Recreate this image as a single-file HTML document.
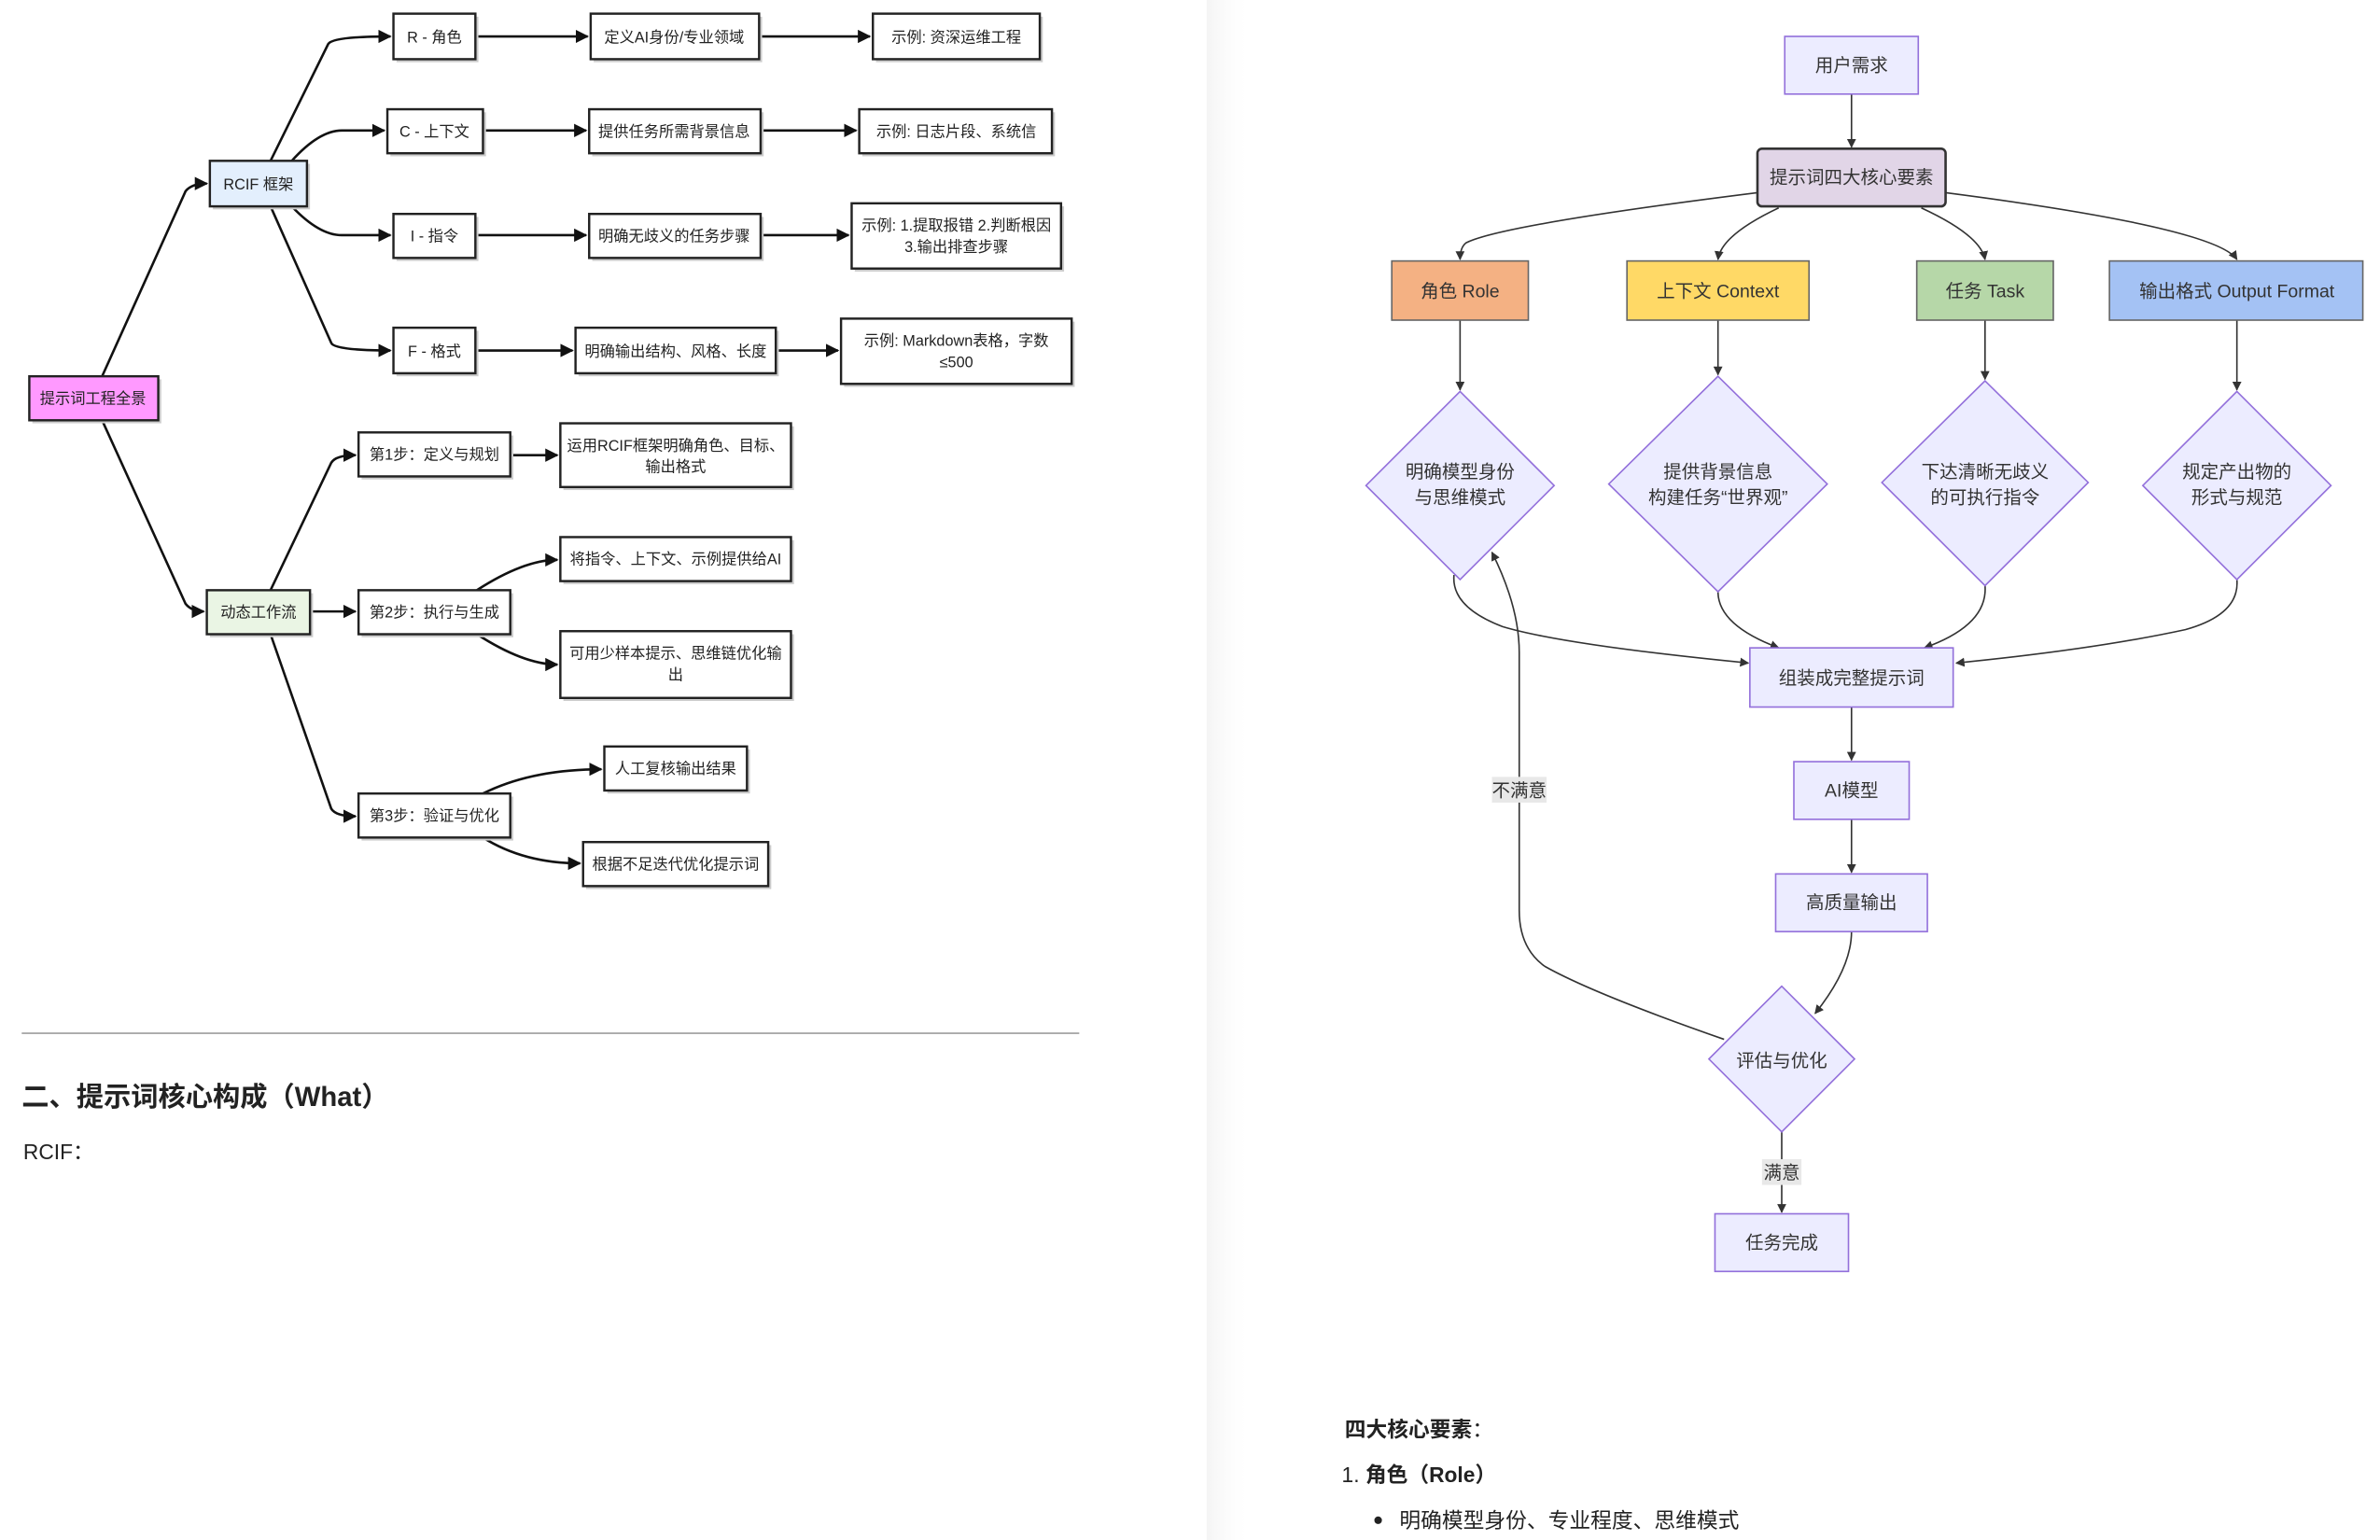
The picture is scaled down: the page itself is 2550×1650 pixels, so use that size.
<!DOCTYPE html>
<html><head><meta charset="utf-8"><style>
html,body{margin:0;padding:0;background:#fff;width:2550px;height:1650px;overflow:hidden}
svg{display:block}
text{font-family:"Liberation Sans","Noto Sans CJK SC",sans-serif}
</style></head><body>
<svg width="2550" height="1650" viewBox="0 0 1568 1015" xmlns="http://www.w3.org/2000/svg">
<defs>
<linearGradient id="sh" x1="0" x2="1" y1="0" y2="0">
<stop offset="0" stop-color="#f4f4f4"/><stop offset="1" stop-color="#ffffff" stop-opacity="0"/>
</linearGradient>
<marker id="ab" viewBox="0 0 10 10" refX="9" refY="5" markerWidth="5.5" markerHeight="5.5" orient="auto"><path d="M0,0L10,5L0,10z" fill="#111"/></marker>
<marker id="ag" viewBox="0 0 10 10" refX="9" refY="5" markerWidth="6" markerHeight="6" orient="auto"><path d="M0,0L10,5L0,10z" fill="#333"/></marker>
</defs>
<rect x="0" y="0" width="1568" height="1015" fill="#fff"/>
<rect x="795" y="0" width="30" height="1015" fill="url(#sh)"/>

<g fill="none" stroke="#111" stroke-width="1.6" marker-end="url(#ab)">
<path d="M67,248 L122,126 Q126,121 136,121"/>
<path d="M67,277 L122,398 Q126,403 134,403"/>
<path d="M178,106 L216,29 Q219,24 257,24"/>
<path d="M192,106 Q210,86 225,86 L253,86"/>
<path d="M192,136 Q210,155 225,155 L257,155"/>
<path d="M178,136 L218,226 Q220,231 257,231"/>
<path d="M313,24 L387,24"/><path d="M500,24 L573,24"/>
<path d="M318,86 L386,86"/><path d="M501,86 L564,86"/>
<path d="M313,155 L386,155"/><path d="M501,155 L559,155"/>
<path d="M313,231 L377,231"/><path d="M511,231 L552,231"/>
<path d="M178,389 L218,305 Q221,300 234,300"/>
<path d="M204,403 L234,403"/>
<path d="M178,418 L218,533 Q221,538 234,538"/>
<path d="M336,300 L367,300"/>
<path d="M314,389 Q345,369 367,369"/>
<path d="M314,418 Q345,438 367,438"/>
<path d="M318,523 Q350,507 396,507"/>
<path d="M318,552 Q345,569 382,569"/>
</g>
<g stroke="#222" stroke-width="1.5" font-size="10" text-anchor="middle">
<g fill="#ccc" stroke="none">
<rect x="21" y="250" width="85" height="29"/><rect x="140" y="108" width="64" height="30"/><rect x="138" y="391" width="68" height="29"/>
<rect x="261" y="11" width="54" height="30"/><rect x="391" y="11" width="111" height="30"/><rect x="577" y="11" width="110" height="30"/>
<rect x="257" y="74" width="63" height="29"/><rect x="390" y="74" width="113" height="29"/><rect x="568" y="74" width="127" height="29"/>
<rect x="261" y="143" width="54" height="29"/><rect x="390" y="143" width="113" height="29"/><rect x="563" y="136" width="138" height="43"/>
<rect x="261" y="218" width="54" height="30"/><rect x="381" y="218" width="132" height="30"/><rect x="556" y="212" width="152" height="43"/>
<rect x="238" y="287" width="100" height="29"/><rect x="371" y="281" width="152" height="42"/>
<rect x="238" y="391" width="100" height="29"/><rect x="371" y="356" width="152" height="29"/><rect x="371" y="418" width="152" height="44"/>
<rect x="238" y="525" width="100" height="29"/><rect x="400" y="494" width="94" height="29"/><rect x="386" y="557" width="122" height="29"/>
</g>
<rect x="19" y="248" width="85" height="29" fill="#ff99ff"/>
<rect x="138" y="106" width="64" height="30" fill="#e3effd"/>
<rect x="136" y="389" width="68" height="29" fill="#eaf5e4"/>
<g fill="#fff">
<rect x="259" y="9" width="54" height="30"/><rect x="389" y="9" width="111" height="30"/><rect x="575" y="9" width="110" height="30"/>
<rect x="255" y="72" width="63" height="29"/><rect x="388" y="72" width="113" height="29"/><rect x="566" y="72" width="127" height="29"/>
<rect x="259" y="141" width="54" height="29"/><rect x="388" y="141" width="113" height="29"/><rect x="561" y="134" width="138" height="43"/>
<rect x="259" y="216" width="54" height="30"/><rect x="379" y="216" width="132" height="30"/><rect x="554" y="210" width="152" height="43"/>
<rect x="236" y="285" width="100" height="29"/><rect x="369" y="279" width="152" height="42"/>
<rect x="236" y="389" width="100" height="29"/><rect x="369" y="354" width="152" height="29"/><rect x="369" y="416" width="152" height="44"/>
<rect x="236" y="523" width="100" height="29"/><rect x="398" y="492" width="94" height="29"/><rect x="384" y="555" width="122" height="29"/>
</g>
<g stroke="none" fill="#222">
<text x="61" y="266">提示词工程全景</text>
<text x="170" y="125">RCIF 框架</text>
<text x="170" y="407">动态工作流</text>
<text x="286" y="28">R - 角色</text><text x="444" y="28">定义AI身份/专业领域</text><text x="630" y="28">示例: 资深运维工程</text>
<text x="286" y="90">C - 上下文</text><text x="444" y="90">提供任务所需背景信息</text><text x="630" y="90">示例: 日志片段、系统信</text>
<text x="286" y="159">I - 指令</text><text x="444" y="159">明确无歧义的任务步骤</text><text x="630" y="152">示例: 1.提取报错 2.判断根因</text><text x="630" y="166">3.输出排查步骤</text>
<text x="286" y="235">F - 格式</text><text x="445" y="235">明确输出结构、风格、长度</text><text x="630" y="228">示例: Markdown表格，字数</text><text x="630" y="242">≤500</text>
<text x="286" y="303">第1步：定义与规划</text><text x="445" y="297">运用RCIF框架明确角色、目标、</text><text x="445" y="311">输出格式</text>
<text x="286" y="407">第2步：执行与生成</text><text x="445" y="372">将指令、上下文、示例提供给AI</text><text x="445" y="434">可用少样本提示、思维链优化输</text><text x="445" y="448">出</text>
<text x="286" y="541">第3步：验证与优化</text><text x="445" y="510">人工复核输出结果</text><text x="445" y="573">根据不足迭代优化提示词</text>
</g>
</g>

<line x1="14" y1="681" x2="711" y2="681" stroke="#aaa" stroke-width="1.2"/>
<text x="14" y="729" font-size="18" font-weight="bold" fill="#222">二、提示词核心构成（What）</text>
<text x="15" y="764" font-size="14" fill="#222">RCIF：</text>

<g fill="none" stroke="#333" stroke-width="1" marker-end="url(#ag)">
<path d="M1220,62 L1220,97"/>
<path d="M1158,127 Q990,148 966,160 Q962,163 962,171"/>
<path d="M1172,137 Q1134,155 1132,171"/>
<path d="M1266,137 Q1305,155 1308,171"/>
<path d="M1282,127 Q1460,150 1474,171"/>
<path d="M962,211 L962,257"/>
<path d="M1132,211 L1132,247"/>
<path d="M1308,211 L1308,250"/>
<path d="M1474,211 L1474,257"/>
<path d="M958,379 Q956,400 990,413 Q1030,425 1152,437"/>
<path d="M1132,390 Q1132,412 1172,427"/>
<path d="M1308,386 Q1310,412 1268,427"/>
<path d="M1474,382 Q1476,405 1440,415 Q1380,428 1289,437"/>
<path d="M1220,466 L1220,501"/>
<path d="M1220,540 L1220,575"/>
<path d="M1220,614 Q1220,638 1196,668"/>
<path d="M1174,746 L1174,799"/>
<path d="M1136,685 Q1050,655 1018,637 Q1001,625 1001,600 L1001,430 Q1001,400 983,364"/>
</g>
<g font-size="12" text-anchor="middle" fill="#333">
<g fill="#ececff" stroke="#9370db" stroke-width="1">
<rect x="1176" y="24" width="88" height="38"/>
<rect x="1153" y="427" width="134" height="39"/>
<rect x="1182" y="502" width="76" height="38"/>
<rect x="1170" y="576" width="100" height="38"/>
<rect x="1130" y="800" width="88" height="38"/>
<path d="M962,258 L1024,320 L962,382 L900,320Z"/>
<path d="M1132,248 L1204,319 L1132,390 L1060,319Z"/>
<path d="M1308,251 L1376,318 L1308,386 L1240,318Z"/>
<path d="M1474,258 L1536,320 L1474,382 L1412,320Z"/>
<path d="M1174,650 L1222,698 L1174,746 L1126,698Z"/>
</g>
<rect x="1158" y="98" width="124" height="38" rx="3" fill="#e1d5e7" stroke="#333" stroke-width="1.6"/>
<g stroke="#666" stroke-width="1">
<rect x="917" y="172" width="90" height="39" fill="#f4b183"/>
<rect x="1072" y="172" width="120" height="39" fill="#ffd966"/>
<rect x="1263" y="172" width="90" height="39" fill="#b6d7a8"/>
<rect x="1390" y="172" width="167" height="39" fill="#a4c2f4"/>
</g>
<rect x="983" y="512" width="36" height="17" fill="#e8e8e8"/>
<rect x="1161" y="764" width="26" height="17" fill="#e8e8e8"/>
<g fill="#333">
<text x="1220" y="47">用户需求</text>
<text x="1220" y="121">提示词四大核心要素</text>
<text x="962" y="196">角色 Role</text>
<text x="1132" y="196">上下文 Context</text>
<text x="1308" y="196">任务 Task</text>
<text x="1474" y="196">输出格式 Output Format</text>
<text x="962" y="315">明确模型身份</text><text x="962" y="332">与思维模式</text>
<text x="1132" y="315">提供背景信息</text><text x="1132" y="332">构建任务“世界观”</text>
<text x="1308" y="315">下达清晰无歧义</text><text x="1308" y="332">的可执行指令</text>
<text x="1474" y="315">规定产出物的</text><text x="1474" y="332">形式与规范</text>
<text x="1220" y="451">组装成完整提示词</text>
<text x="1220" y="525">AI模型</text>
<text x="1220" y="599">高质量输出</text>
<text x="1174" y="703">评估与优化</text>
<text x="1174" y="823">任务完成</text>
<text x="1001" y="525">不满意</text>
<text x="1174" y="777">满意</text>
</g>
</g>

<text x="886" y="947" font-size="14" font-weight="bold" fill="#222">四大核心要素<tspan font-weight="normal">：</tspan></text>
<text x="884" y="977" font-size="14" fill="#222">1. <tspan font-weight="bold">角色（Role）</tspan></text>
<circle cx="908" cy="1002" r="2.5" fill="#222"/>
<text x="922" y="1007" font-size="14" fill="#222">明确模型身份、专业程度、思维模式</text>
</svg>
</body></html>
